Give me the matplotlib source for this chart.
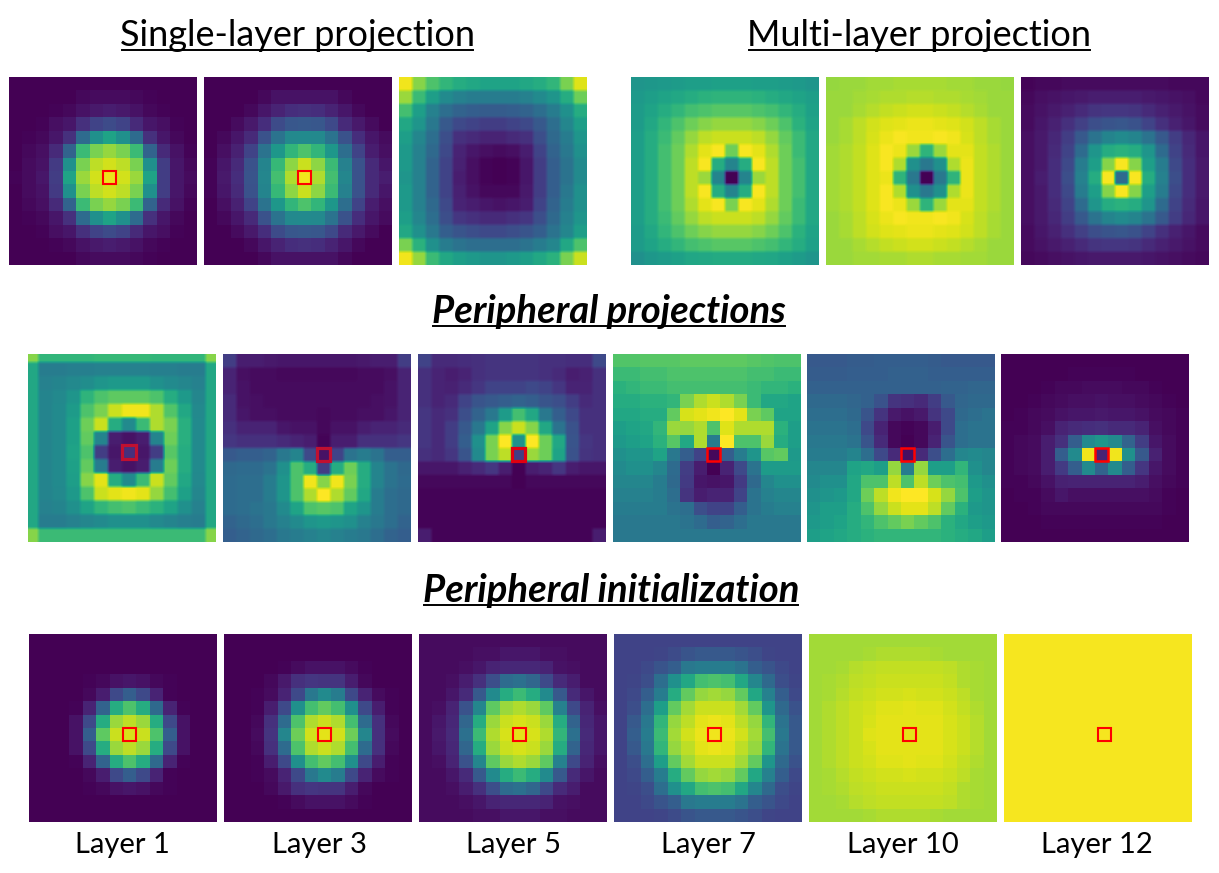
import numpy as np
import matplotlib
matplotlib.use("Agg")
import matplotlib.pyplot as plt
from matplotlib.lines import Line2D
from matplotlib.patches import Rectangle

# values, 0-100 on the viridis scale
single_1 = [
    [0,0,0,0,0,0,0,0,0,0,0,0,0,0],
    [0,0,0,0,0,2,3,3,3,2,1,0,0,0],
    [0,0,0,1,2,5,7,8,7,5,2,1,0,0],
    [0,0,1,4,6,14,20,23,20,12,6,4,1,0],
    [0,1,2,6,14,35,50,58,50,35,14,6,2,0],
    [0,2,4,12,32,68,80,84,80,68,32,12,5,1],
    [0,3,5,17,50,80,90,93,90,80,50,18,6,2],
    [1,3,6,18,58,85,93,97,93,85,58,18,6,3],
    [0,3,5,17,50,80,90,93,90,80,50,18,6,2],
    [0,2,4,12,32,68,80,84,80,68,32,12,5,1],
    [0,1,2,6,14,35,50,58,50,35,14,6,2,0],
    [0,0,1,4,6,14,20,23,20,12,6,4,1,0],
    [0,0,0,1,2,5,7,8,7,5,2,1,0,0],
    [0,0,0,0,0,2,3,3,3,2,1,0,0,0],
]
single_2 = [
    [0,0,0,0,0,0,0,0,0,0,0,0,0,0],
    [0,0,0,0,2,5,5,5,5,5,2,0,0,0],
    [0,0,0,2,6,10,13,14,13,10,6,2,0,0],
    [0,0,3,7,13,23,27,28,27,22,12,7,3,0],
    [0,2,6,12,25,38,47,48,47,38,25,13,6,3],
    [0,4,9,20,38,53,66,72,66,53,36,20,8,4],
    [1,6,12,25,45,67,83,92,83,68,44,25,12,6],
    [1,7,13,26,46,70,88,98,88,70,46,25,12,8],
    [1,6,12,25,45,67,83,92,83,68,44,25,12,6],
    [0,4,9,20,38,53,66,72,66,53,36,20,8,4],
    [0,2,6,12,25,38,47,48,47,38,25,13,6,3],
    [0,0,3,7,13,23,27,28,27,22,12,7,3,0],
    [0,0,0,2,6,10,13,14,13,10,6,2,0,0],
    [0,0,0,0,2,5,5,5,5,5,2,0,0,0],
]
single_3 = [
    [98,82,72,66,62,60,58,58,58,60,62,66,80,95],
    [85,68,56,48,44,42,42,42,42,44,48,52,62,78],
    [70,56,44,36,32,30,29,29,30,32,36,42,50,62],
    [60,52,40,28,22,20,18,18,20,22,28,36,46,56],
    [56,46,36,24,14,12,10,10,12,14,24,34,42,52],
    [54,44,34,22,10,6,4,3,4,8,20,32,40,50],
    [54,44,32,20,9,4,1,0,1,6,18,30,38,48],
    [52,44,32,20,8,4,1,0,1,6,18,30,38,48],
    [54,44,32,20,9,5,2,2,2,7,18,30,40,50],
    [54,44,34,22,10,8,6,5,6,8,20,32,42,50],
    [56,46,36,24,16,14,12,12,14,16,24,34,44,52],
    [60,50,40,30,26,24,22,22,24,26,30,38,46,56],
    [80,64,50,42,38,36,36,36,36,38,42,46,60,72],
    [98,84,68,60,56,54,52,52,54,56,60,64,80,92],
]
multi_1 = [
    [52,53,54,55,56,56,57,57,57,56,56,55,54,52],
    [54,56,58,60,62,64,65,65,65,64,62,60,58,56],
    [55,58,62,66,70,72,74,74,74,72,70,66,62,57],
    [55,60,66,72,78,82,84,84,84,82,78,72,64,58],
    [56,62,68,76,84,90,92,92,92,90,84,76,68,60],
    [56,62,70,78,88,96,99,78,99,96,88,78,68,60],
    [56,62,70,78,90,99,62,45,62,99,90,78,70,60],
    [56,62,70,78,90,85,45,0,45,85,90,78,70,60],
    [56,62,70,78,90,99,62,45,62,99,90,78,70,60],
    [56,62,70,78,88,96,99,80,99,96,88,78,68,60],
    [56,62,68,76,84,90,92,92,92,90,84,76,68,60],
    [55,60,66,72,78,82,84,84,84,82,78,72,64,58],
    [55,58,62,66,70,72,74,74,74,72,70,66,62,57],
    [50,53,55,57,59,60,61,61,61,60,59,57,55,52],
]
multi_2 = [
    [84,85,85,86,86,87,87,87,87,86,86,85,85,84],
    [85,85,86,87,88,88,89,89,88,88,87,86,85,85],
    [85,85,87,89,91,92,93,93,92,91,89,87,85,85],
    [85,87,90,93,95,96,97,97,96,95,93,90,87,85],
    [85,87,90,94,97,99,98,98,99,98,94,90,87,85],
    [86,88,91,95,99,97,85,65,85,96,96,91,88,85],
    [86,88,91,95,99,88,50,40,50,88,97,91,88,85],
    [86,88,91,95,97,65,40,0,40,65,97,91,88,85],
    [86,88,91,95,99,88,50,40,50,88,97,91,88,85],
    [86,88,91,95,99,97,85,65,85,96,96,91,88,85],
    [85,87,90,94,97,99,98,98,99,98,94,90,87,85],
    [85,87,90,93,95,96,97,97,96,95,93,90,87,85],
    [85,85,87,89,91,92,93,93,92,91,89,87,85,85],
    [85,85,86,86,87,87,88,88,87,87,86,86,85,85],
]
multi_3 = [
    [1,2,2,3,3,3,3,3,3,3,3,2,2,2],
    [2,4,5,6,7,8,8,8,8,7,6,5,4,2],
    [3,5,7,9,12,15,16,16,15,12,9,7,5,3],
    [3,6,9,14,19,24,26,27,25,20,14,9,6,3],
    [4,7,11,18,28,38,45,48,45,38,28,18,11,6],
    [4,7,12,20,35,52,62,64,62,52,35,20,12,6],
    [4,7,13,22,42,56,82,99,82,56,42,22,13,7],
    [4,8,13,24,44,62,99,35,99,62,44,24,13,7],
    [4,7,13,22,42,56,82,99,82,56,42,22,13,7],
    [4,7,12,20,35,52,62,64,62,52,35,20,12,6],
    [4,7,11,18,28,38,45,48,45,38,28,18,11,6],
    [3,6,9,14,19,24,26,27,25,20,14,9,6,3],
    [3,5,7,9,12,15,16,16,15,12,9,7,5,3],
    [2,3,4,5,6,7,7,7,7,6,5,4,3,2],
]
periph_1 = [
    [82,66,66,66,66,67,67,67,67,66,66,66,66,82],
    [60,42,42,43,43,44,44,44,44,43,43,42,42,60],
    [60,44,45,47,49,52,54,54,54,50,48,46,44,60],
    [60,45,47,52,65,72,75,75,75,72,62,54,46,60],
    [60,45,48,55,72,80,92,98,98,88,73,60,47,60],
    [60,45,48,57,78,92,62,48,68,88,80,63,48,60],
    [60,45,48,57,76,45,8,5,8,45,78,63,48,60],
    [60,45,48,58,72,18,6,14,6,18,74,62,48,60],
    [60,45,48,57,76,42,8,5,8,42,78,62,48,60],
    [60,45,48,56,82,96,62,48,68,92,76,60,47,60],
    [60,45,47,54,72,92,96,98,96,84,70,57,46,60],
    [60,44,45,50,58,66,70,72,68,64,58,50,44,60],
    [60,42,42,44,46,48,50,50,50,47,45,43,42,60],
    [82,68,68,68,68,68,68,68,68,68,68,68,68,82],
]
periph_2 = [
    [18,8,8,7,6,6,6,6,6,6,7,8,8,18],
    [10,4,3,3,2,2,2,2,2,2,3,3,4,10],
    [10,5,3,3,3,3,3,3,3,3,3,3,5,10],
    [12,5,4,3,3,3,3,3,3,3,3,4,5,10],
    [12,6,4,4,3,3,3,2,3,3,4,4,6,10],
    [14,10,10,10,6,5,5,2,5,5,8,10,10,12],
    [16,14,14,14,12,10,8,1,8,8,14,14,14,16],
    [28,30,30,32,40,45,22,5,20,38,42,38,30,30],
    [34,35,35,38,50,72,62,18,62,78,62,45,38,34],
    [35,36,36,42,52,72,98,82,98,80,62,45,38,35],
    [35,36,36,42,52,72,88,100,88,76,60,42,36,34],
    [35,36,38,40,48,58,72,74,72,58,52,42,36,34],
    [32,34,36,40,44,48,52,54,52,50,44,40,36,32],
    [30,32,34,36,40,42,44,46,44,42,40,36,32,30],
]
periph_3 = [
    [20,12,12,13,14,15,15,15,15,14,14,13,13,22],
    [14,10,8,10,14,15,15,15,15,14,12,8,9,14],
    [14,10,9,12,16,20,20,20,22,20,16,10,10,14],
    [14,10,12,20,26,28,30,32,30,26,24,18,12,14],
    [16,12,14,24,32,40,55,70,60,40,30,22,14,14],
    [16,12,18,28,40,58,82,92,82,60,38,25,14,14],
    [16,12,18,30,50,80,100,50,100,78,60,26,16,14],
    [14,12,16,26,48,80,90,18,85,78,58,25,15,14],
    [6,6,6,9,12,16,8,0,8,10,16,8,6,6],
    [2,2,2,2,2,2,2,0,2,2,2,2,2,2],
    [1,1,1,1,1,1,1,1,1,1,1,1,1,1],
    [1,1,1,1,1,1,1,1,1,1,1,1,1,1],
    [1,1,1,1,1,1,1,1,1,1,1,1,1,1],
    [8,1,1,1,1,1,1,1,1,1,1,1,1,8],
]
periph_4 = [
    [73,73,74,74,74,75,75,75,75,75,74,73,72,72],
    [68,68,70,70,72,72,72,72,72,72,70,70,68,68],
    [64,66,68,68,70,70,70,70,70,70,68,66,66,64],
    [62,62,64,64,66,80,88,92,88,80,68,60,60,58],
    [60,60,62,62,76,94,96,98,100,96,80,75,58,58],
    [56,58,60,66,85,84,88,72,95,88,88,88,64,56],
    [54,56,58,64,74,60,88,42,100,72,72,85,62,56],
    [50,52,52,58,40,30,20,2,30,42,52,74,76,54],
    [48,50,50,46,35,18,8,0,10,22,38,55,55,55],
    [46,46,46,42,34,17,6,5,6,17,34,46,50,50],
    [44,44,44,42,36,15,8,10,10,20,38,44,46,46],
    [42,42,42,42,38,36,24,20,20,30,38,42,44,44],
    [40,40,40,40,40,38,35,30,32,36,40,40,40,40],
    [40,40,40,40,40,40,40,40,40,40,40,40,40,40],
]
periph_5 = [
    [28,28,28,29,29,30,30,30,30,29,28,28,28,28],
    [29,29,29,30,30,30,31,31,31,30,30,30,30,30],
    [31,31,31,31,31,31,31,31,31,31,32,32,33,33],
    [34,34,34,33,31,25,15,14,12,18,28,33,34,34],
    [36,36,36,34,26,15,7,5,7,15,22,34,36,38],
    [38,38,38,36,22,10,2,1,2,8,22,36,38,38],
    [40,40,40,38,26,12,2,0,2,10,26,36,38,38],
    [42,42,42,45,36,22,12,4,12,24,36,46,48,46],
    [46,46,46,58,60,56,84,42,84,56,56,66,50,46],
    [48,50,50,60,72,72,90,72,90,78,72,70,54,50],
    [50,52,54,60,78,90,98,100,100,94,84,72,56,52],
    [52,56,56,62,72,84,92,96,96,90,76,64,54,52],
    [54,56,58,62,66,72,76,80,76,72,64,60,56,54],
    [56,58,60,62,64,66,66,66,66,66,64,62,60,56],
]
periph_6 = [
    [0,0,0,0,0,0,0,0,0,0,0,0,0,0],
    [0,0,0,0,0,1,1,1,1,1,0,0,0,0],
    [0,0,0,1,2,2,3,3,3,2,2,1,0,0],
    [0,0,1,2,3,4,4,5,4,4,3,2,1,0],
    [0,1,2,3,5,6,6,7,6,6,5,3,2,1],
    [1,1,2,4,10,12,13,14,12,12,10,4,2,1],
    [1,2,3,8,14,30,48,52,48,32,18,6,3,1],
    [1,2,3,8,30,48,98,10,98,50,28,9,3,1],
    [1,2,3,8,17,30,48,32,48,30,16,6,3,1],
    [1,1,2,5,9,10,10,10,10,10,8,4,2,1],
    [0,1,1,3,6,4,4,4,4,4,4,3,1,0],
    [0,0,1,2,2,2,2,2,2,2,2,2,1,0],
    [0,0,0,1,1,1,1,1,1,1,1,1,0,0],
    [0,0,0,0,0,0,0,0,0,0,0,0,0,0],
]
layer_1 = [
    [0,0,0,0,0,0,0,0,0,0,0,0,0,0],
    [0,0,0,0,0,0,0,0,0,0,0,0,0,0],
    [0,0,0,0,0,0,0,0,0,0,0,0,0,0],
    [0,0,0,0,1,2,5,6,5,2,1,0,0,0],
    [0,0,0,0,2,8,22,30,22,10,1,0,0,0],
    [0,0,0,1,10,32,62,72,62,34,10,1,0,0],
    [0,0,0,5,22,62,85,90,85,62,22,5,0,0],
    [0,0,0,5,30,75,92,94,92,72,30,5,0,0],
    [0,0,0,5,22,62,85,90,85,62,22,5,0,0],
    [0,0,0,1,10,32,62,72,62,34,10,1,0,0],
    [0,0,0,0,2,8,22,30,22,10,1,0,0,0],
    [0,0,0,0,1,2,5,6,5,2,1,0,0,0],
    [0,0,0,0,0,0,0,0,0,0,0,0,0,0],
    [0,0,0,0,0,0,0,0,0,0,0,0,0,0],
]
layer_3 = [
    [0,0,0,0,0,0,0,0,0,0,0,0,0,0],
    [0,0,0,0,0,0,0,0,0,0,0,0,0,0],
    [0,0,0,0,1,3,5,5,5,3,1,0,0,0],
    [0,0,0,2,7,14,16,15,15,8,2,0,0,0],
    [0,0,1,3,10,22,40,48,42,22,10,3,1,0],
    [0,0,1,8,22,50,70,76,70,50,22,8,1,0],
    [0,0,2,14,35,72,88,92,88,70,35,14,2,0],
    [0,0,3,15,46,78,93,96,93,78,46,14,3,0],
    [0,0,2,14,35,72,88,92,88,70,35,14,2,0],
    [0,0,1,8,22,50,70,76,70,50,22,8,1,0],
    [0,0,1,3,10,22,40,48,42,22,10,3,1,0],
    [0,0,0,2,7,14,16,15,15,8,2,0,0,0],
    [0,0,0,0,1,3,5,5,5,3,1,0,0,0],
    [0,0,0,0,0,0,0,0,0,0,0,0,0,0],
]
layer_5 = [
    [3,3,3,3,3,3,3,3,3,3,3,3,3,3],
    [3,3,3,3,4,4,6,6,6,4,4,3,3,3],
    [3,3,3,4,6,10,11,11,11,10,5,4,3,3],
    [3,3,4,8,14,24,35,37,33,22,12,8,3,3],
    [3,3,6,12,28,48,62,68,62,48,28,12,6,3],
    [3,4,10,25,46,75,85,88,85,75,44,22,10,4],
    [3,6,11,33,62,85,92,94,92,85,62,32,11,6],
    [3,7,12,37,68,88,94,96,94,88,66,37,12,6],
    [3,6,11,33,62,85,92,94,92,85,62,32,11,6],
    [3,4,10,25,46,75,85,88,85,75,44,22,10,4],
    [3,3,6,12,28,48,62,68,62,48,28,12,6,3],
    [3,3,4,8,14,24,35,37,33,22,12,8,3,3],
    [3,3,3,4,6,10,11,11,11,10,5,4,3,3],
    [3,3,3,3,4,4,6,6,6,4,4,3,3,3],
]
layer_7 = [
    [20,20,20,20,20,20,20,20,20,20,20,20,20,20],
    [20,20,20,21,23,26,28,28,28,26,24,21,20,20],
    [20,20,22,26,30,40,42,42,42,38,30,26,22,20],
    [20,21,24,36,50,60,70,72,70,60,46,34,24,21],
    [20,22,30,42,62,76,84,86,84,76,60,44,30,22],
    [20,24,36,56,76,86,92,92,92,86,76,52,34,25],
    [20,28,40,66,84,90,96,97,96,90,84,66,38,28],
    [20,30,42,68,86,93,97,98,97,93,86,70,40,28],
    [20,28,40,66,84,90,96,97,96,90,84,66,38,28],
    [20,24,36,56,76,86,92,92,92,86,76,52,34,25],
    [20,22,30,42,62,76,84,86,84,76,60,44,30,22],
    [20,21,24,36,50,60,70,72,70,60,46,34,24,21],
    [20,20,22,26,30,40,42,42,42,38,30,26,22,20],
    [20,20,20,21,23,26,28,28,28,26,24,21,20,20],
]
layer_10 = [
    [86,86,86,86,86,86,86,86,86,86,86,86,86,86],
    [86,86,86,86,87,88,88,88,88,87,86,86,86,86],
    [86,86,87,89,90,91,91,91,91,91,90,88,87,86],
    [86,87,88,90,91,92,92,92,92,92,91,88,87,86],
    [86,87,89,91,92,93,93,94,93,93,92,90,87,86],
    [86,88,90,92,93,95,95,96,95,95,93,91,88,86],
    [86,88,90,92,94,96,96,96,96,96,94,92,89,86],
    [86,88,90,92,95,96,96,96,96,96,94,92,89,86],
    [86,88,90,92,94,96,96,96,96,96,94,92,89,86],
    [86,88,90,92,93,95,95,96,95,95,93,91,88,86],
    [86,87,89,91,92,93,93,94,93,93,92,90,87,86],
    [86,87,88,90,91,92,92,92,92,92,91,88,87,86],
    [86,86,87,89,90,91,91,91,91,91,90,88,87,86],
    [86,86,86,86,87,88,88,88,88,87,86,86,86,86],
]
layer_12 = [[98.5] * 14 for _ in range(14)]

row_top = [single_1, single_2, single_3, multi_1, multi_2, multi_3]
row_mid = [periph_1, periph_2, periph_3, periph_4, periph_5, periph_6]
row_low = [layer_1, layer_3, layer_5, layer_7, layer_10, layer_12]
layer_labels = ["Layer 1", "Layer 3", "Layer 5", "Layer 7", "Layer 10", "Layer 12"]

W, H = 1219, 873
plt.rcParams['font.family'] = ['Lato', 'DejaVu Sans']
fig = plt.figure(figsize=(W / 100, H / 100), dpi=100)


def add_panel(values, x0, y0, size=188, box=None, box_lw=1.5, soft=False, view=None):
    ax = fig.add_axes([x0 / W, 1 - (y0 + size) / H, size / W, size / H])
    img = np.array(values)
    ext = (-0.5, 13.5, 13.5, -0.5)
    if soft:
        # some panels are low res screenshots: same cells, softened edges
        ax.imshow(np.kron(img, np.ones((4, 4))), cmap='viridis', vmin=0, vmax=100,
                  interpolation='bilinear', extent=ext, aspect='auto')
    else:
        ax.imshow(img, cmap='viridis', vmin=0, vmax=100, interpolation='nearest',
                  extent=ext, aspect='auto')
    if view:
        ax.set_xlim(view[0], view[1])
        ax.set_ylim(view[2], view[3])
    ax.axis('off')
    if box:
        ax.add_patch(Rectangle((6.5, 6.5), 1, 1, fill=False, edgecolor=box, linewidth=box_lw))
    return ax


def add_title(text, xc, yc, width_px, size, **kw):
    # text plus a hand drawn underline, like the slide it came from
    t = fig.text(xc / W, 1 - yc / H, text, ha='center', va='center', fontsize=size, color='black', **kw)
    y = 1 - (yc + 15) / H
    fig.add_artist(Line2D([(xc - width_px / 2) / W, (xc + width_px / 2) / W], [y, y], color='black', lw=1.4))
    return t


top_x = [9, 204, 399, 631, 826, 1021]
mid_x = [28, 223, 418, 613, 807, 1001]
low_x = [29, 224, 419, 614, 809, 1004]
label_x = [122, 319, 513, 708, 903, 1097]

for i, vals in enumerate(row_top):
    box = 'red' if i < 2 else None
    add_panel(vals, top_x[i], 77, box=box, soft=i >= 2)

mid_box = ['#c01030', '#c01030', '#e00010', 'red', 'red', 'red']
mid_lw = [2.3, 2.3, 2.3, 1.8, 1.8, 1.8]
for i, vals in enumerate(row_mid):
    # first panel has clipped outer cells
    view = (-0.25, 13.25, 13.5, -0.1) if i == 0 else None
    add_panel(vals, mid_x[i], 354, box=mid_box[i], box_lw=mid_lw[i], soft=i < 3, view=view)

for i, vals in enumerate(row_low):
    add_panel(vals, low_x[i], 634, box='red')
    fig.text(label_x[i] / W, 1 - 845 / H, layer_labels[i], ha='center', va='center', fontsize=21, color='black')

add_title("Single-layer projection", 297, 35, 351, 26)
add_title("Multi-layer projection", 919, 35, 341, 26)
add_title("Peripheral projections", 609, 311, 352, 27.5, fontweight='bold', fontstyle='italic')
add_title("Peripheral initialization", 611, 590, 374, 27.5, fontweight='bold', fontstyle='italic')

fig.savefig("out.png", dpi=100)
